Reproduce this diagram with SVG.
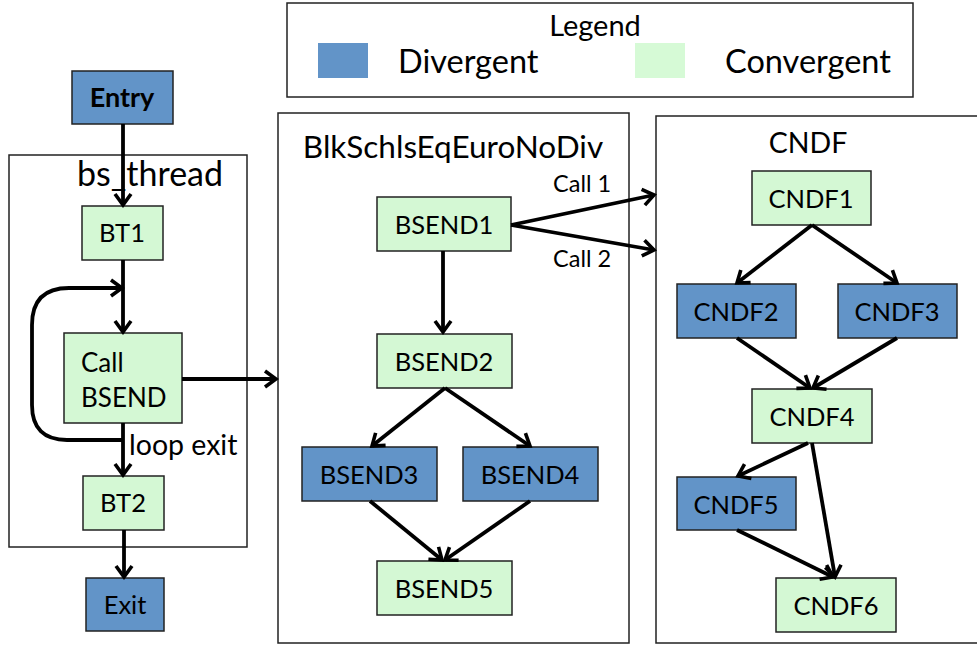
<svg xmlns="http://www.w3.org/2000/svg" width="977" height="646" viewBox="0 0 977 646">
<defs>
<marker id="arr" viewBox="0 0 16 20" refX="13" refY="10" markerWidth="16" markerHeight="20" markerUnits="userSpaceOnUse" orient="auto">
<path d="M2,2 L13,10 L2,18" fill="none" stroke="#000" stroke-width="3.6" stroke-linejoin="miter"/>
</marker>
<style>
.frame{fill:#fff;stroke:#222;stroke-width:1.5}
.div{fill:#6294C8;stroke:#222;stroke-width:1.5}
.con{fill:#D4F8D4;stroke:#222;stroke-width:1.5}
text{font-family:Lato,"Liberation Sans",sans-serif;fill:#000}
.lbl{font-size:25.5px;text-anchor:middle}
.conn line,.conn path{stroke:#000;stroke-width:3.8;fill:none;marker-end:url(#arr)}
</style>
</defs>
<rect width="977" height="646" fill="#fff"/>

<g id="legend">
<rect class="frame" x="287" y="3" width="626" height="94"/>
<text x="595" y="36" style="font-size:29px" text-anchor="middle">Legend</text>
<rect x="318" y="43" width="50" height="35" fill="#6294C8"/>
<text x="398" y="73" style="font-size:32.5px">Divergent</text>
<rect x="635" y="43" width="50" height="35" fill="#D6FAD6"/>
<text x="725" y="73" style="font-size:32.5px">Convergent</text>
</g>

<g id="bs_thread">
<rect class="frame" x="9" y="155" width="238" height="392"/>
<text x="150" y="186" style="font-size:34px" text-anchor="middle">bs_thread</text>
</g>
<g id="BlkSchlsEqEuroNoDiv">
<rect class="frame" x="278" y="113" width="351" height="530"/>
<text x="453" y="158" style="font-size:31.5px" text-anchor="middle">BlkSchlsEqEuroNoDiv</text>
</g>
<g id="CNDF">
<rect class="frame" x="656" y="116" width="330" height="527"/>
<text x="808" y="153" style="font-size:28.5px" text-anchor="middle">CNDF</text>
</g>

<g id="Entry"><rect class="div" x="72" y="71" width="101" height="53"/><text class="lbl" x="122" y="107" font-weight="bold" style="font-size:27px">Entry</text></g>
<g id="BT1"><rect class="con" x="82" y="206" width="81" height="54"/><text class="lbl" x="122" y="242">BT1</text></g>
<g id="CallBSEND"><rect class="con" x="64" y="333" width="118" height="90"/><text x="81" y="372" style="font-size:26px">Call</text><text x="81" y="407" style="font-size:26px">BSEND</text></g>
<g id="BT2"><rect class="con" x="83" y="476" width="81" height="54"/><text class="lbl" x="123" y="512">BT2</text></g>
<g id="Exit"><rect class="div" x="86" y="578" width="78" height="53"/><text class="lbl" x="125" y="614">Exit</text></g>

<g id="BSEND1"><rect class="con" x="377" y="197" width="134" height="54"/><text class="lbl" x="444" y="234">BSEND1</text></g>
<g id="BSEND2"><rect class="con" x="377" y="334" width="135" height="54"/><text class="lbl" x="444" y="371">BSEND2</text></g>
<g id="BSEND3"><rect class="div" x="302" y="447" width="135" height="54"/><text class="lbl" x="369" y="484">BSEND3</text></g>
<g id="BSEND4"><rect class="div" x="463" y="447" width="135" height="54"/><text class="lbl" x="530" y="484">BSEND4</text></g>
<g id="BSEND5"><rect class="con" x="377" y="561" width="135" height="54"/><text class="lbl" x="444" y="598">BSEND5</text></g>

<g id="CNDF1"><rect class="con" x="752" y="171" width="119" height="54"/><text class="lbl" x="811" y="208">CNDF1</text></g>
<g id="CNDF2"><rect class="div" x="677" y="284" width="119" height="54"/><text class="lbl" x="736" y="321">CNDF2</text></g>
<g id="CNDF3"><rect class="div" x="838" y="284" width="119" height="54"/><text class="lbl" x="897" y="321">CNDF3</text></g>
<g id="CNDF4"><rect class="con" x="752" y="389" width="120" height="54"/><text class="lbl" x="812" y="426">CNDF4</text></g>
<g id="CNDF5"><rect class="div" x="677" y="477" width="119" height="53"/><text class="lbl" x="736" y="514">CNDF5</text></g>
<g id="CNDF6"><rect class="con" x="776" y="578" width="120" height="54"/><text class="lbl" x="836" y="615">CNDF6</text></g>

<g id="connectors" class="conn">
<line x1="123" y1="124" x2="123" y2="205"/>
<line x1="123" y1="260" x2="123" y2="332"/>
<path d="M123,440 H67 Q32,440 32,405 V325 Q32,288 69,288 H122"/>
<line x1="123" y1="423" x2="123" y2="475"/>
<line x1="124" y1="530" x2="124" y2="577"/>
<line x1="182" y1="379" x2="276" y2="379"/>
<line x1="511" y1="225" x2="654" y2="195"/>
<line x1="511" y1="225" x2="654" y2="250"/>
<line x1="443" y1="251" x2="443" y2="332"/>
<line x1="445" y1="388" x2="372" y2="446"/>
<line x1="445" y1="388" x2="530" y2="446"/>
<line x1="370" y1="501" x2="442" y2="560"/>
<line x1="530" y1="501" x2="445" y2="560"/>
<line x1="812" y1="225" x2="737" y2="283"/>
<line x1="812" y1="225" x2="897" y2="283"/>
<line x1="737" y1="338" x2="810" y2="388"/>
<line x1="897" y1="338" x2="813" y2="388"/>
<line x1="808" y1="443" x2="738" y2="476"/>
<line x1="812" y1="443" x2="835" y2="577"/>
<line x1="737" y1="530" x2="833" y2="577"/>
</g>
<text x="553" y="192" style="font-size:23.5px">Call 1</text>
<text x="553" y="267" style="font-size:23.5px">Call 2</text>
<text x="129" y="455" style="font-size:28.5px">loop exit</text>
</svg>
